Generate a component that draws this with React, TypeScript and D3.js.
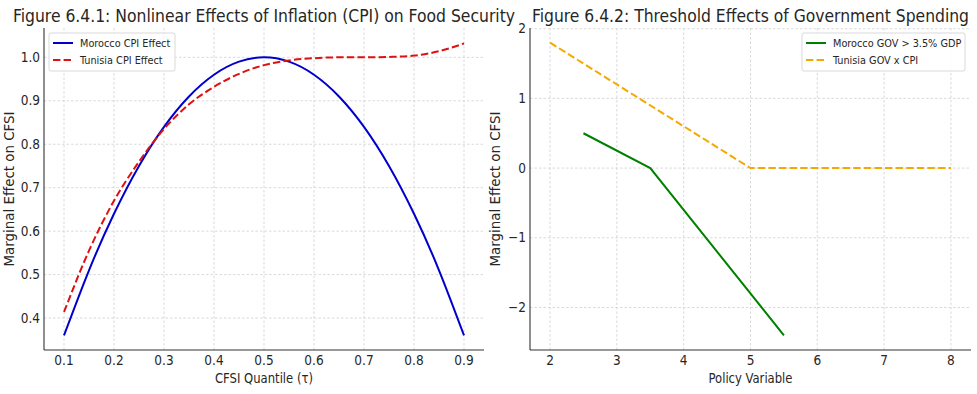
import React from 'react';
import * as d3 from 'd3';

// Figure 6.4.1 data
const tau = [0.1, 0.15, 0.2, 0.25, 0.3, 0.35, 0.4, 0.45, 0.5, 0.55, 0.6, 0.65, 0.7, 0.75, 0.8, 0.85, 0.9];
const moroccoCpi = [0.36, 0.51, 0.64, 0.75, 0.84, 0.91, 0.96, 0.99, 1.0, 0.99, 0.96, 0.91, 0.84, 0.75, 0.64, 0.51, 0.36];
const tunisiaCpi = [0.414, 0.555, 0.67, 0.76, 0.835, 0.892, 0.932, 0.962, 0.982, 0.993, 0.998, 1.0, 1.0, 1.001, 1.004, 1.014, 1.032];
const tauTicks = [0.1, 0.2, 0.3, 0.4, 0.5, 0.6, 0.7, 0.8, 0.9];
const cpiTicks = [0.4, 0.5, 0.6, 0.7, 0.8, 0.9, 1.0];

// Figure 6.4.2 data
const policyMorocco = [2.5, 3.5, 5.5];
const moroccoGov = [0.5, 0, -2.4];
const policyTunisia = [2, 5, 8];
const tunisiaGov = [1.8, 0, 0];
const policyTicks = [2, 3, 4, 5, 6, 7, 8];
const govTicks = [-2, -1, 0, 1, 2];

const FONT = "'DejaVu Sans Condensed', 'DejaVu Sans', sans-serif";
const TXT = '#262626';

type Series = { xs: number[]; ys: number[]; color: string; dashed: boolean; label: string; curve: d3.CurveFactory };

type PanelProps = {
  left: number;
  right: number;
  top: number;
  bottom: number;
  xDomain: [number, number];
  yDomain: [number, number];
  xTicks: number[];
  yTicks: number[];
  xFmt: (v: number) => string;
  yFmt: (v: number) => string;
  title: string;
  titleWidth: number;
  xLabel: string;
  xLabelWidth: number;
  yLabel: string;
  series: Series[];
  legendX: number;
  legendW: number;
};

const Panel = (p: PanelProps) => {
  const x = d3.scaleLinear().domain(p.xDomain).range([p.left, p.right]);
  const y = d3.scaleLinear().domain(p.yDomain).range([p.bottom, p.top]);
  const cx = (p.left + p.right) / 2;
  const cy = (p.top + p.bottom) / 2;
  return (
    <g fontFamily={FONT} fontStretch="condensed">
      {p.xTicks.map(t => (
        <line key={'gx' + t} x1={x(t)} x2={x(t)} y1={p.top} y2={p.bottom} stroke="#cfcfcf" strokeWidth={0.8} strokeDasharray="2.5,2" />
      ))}
      {p.yTicks.map(t => (
        <line key={'gy' + t} x1={p.left} x2={p.right} y1={y(t)} y2={y(t)} stroke="#cfcfcf" strokeWidth={0.8} strokeDasharray="2.5,2" />
      ))}
      {p.series.map(s => {
        const line = d3.line<number>().x((_, i) => x(s.xs[i])).y(d => y(d)).curve(s.curve);
        return (
          <path key={s.label} d={line(s.ys) || ''} fill="none" stroke={s.color} strokeWidth={2}
            strokeDasharray={s.dashed ? '7.4,3.2' : undefined} />
        );
      })}
      <line x1={p.left} x2={p.left} y1={p.top} y2={p.bottom} stroke="#333" strokeWidth={1.1} />
      <line x1={p.left} x2={p.right} y1={p.bottom} y2={p.bottom} stroke="#333" strokeWidth={1.1} />
      {p.xTicks.map(t => (
        <text key={'tx' + t} x={x(t)} y={p.bottom + 15} textAnchor="middle" fontSize={13.5} fill={TXT}>
          {p.xFmt(t)}
        </text>
      ))}
      {p.yTicks.map(t => (
        <text key={'ty' + t} x={p.left - 4} y={y(t) + 4.7} textAnchor="end" fontSize={13.5} fill={TXT}>
          {p.yFmt(t)}
        </text>
      ))}
      <text x={cx} y={22} textAnchor="middle" fontSize={18} fill={TXT}
        textLength={p.titleWidth} lengthAdjust="spacingAndGlyphs">{p.title}</text>
      <text x={cx} y={383} textAnchor="middle" fontSize={14} fill={TXT}
        textLength={p.xLabelWidth} lengthAdjust="spacingAndGlyphs">{p.xLabel}</text>
      <text transform={`translate(${p.left - 30},${cy}) rotate(-90)`} textAnchor="middle" fontSize={14} fill={TXT}
        textLength={155} lengthAdjust="spacingAndGlyphs">
        {p.yLabel}
      </text>
      <g transform={`translate(${p.legendX},33)`}>
        <rect x={0} y={0} width={p.legendW} height={38} fill="#fff" fillOpacity={0.85} stroke="#d9d9d9" rx={2} />
        {p.series.map((s, i) => (
          <g key={'lg' + s.label} transform={`translate(0,${10 + i * 17})`}>
            <line x1={4} x2={24} y1={0} y2={0} stroke={s.color} strokeWidth={2} strokeDasharray={s.dashed ? '7.4,3.2' : undefined} />
            <text x={31} y={4} fontSize={10.8} fill={TXT}>{s.label}</text>
          </g>
        ))}
      </g>
    </g>
  );
};

export default function App() {
  const f1 = d3.format('.1f');
  const fInt = (v: number) => (v < 0 ? '\u2212' + Math.abs(v) : String(v));
  return (
    <svg width={977} height={394} style={{ display: 'block', position: 'absolute', left: 0, top: 0, background: '#fff' }}>
      <Panel
        left={44} right={484} top={28} bottom={350}
        xDomain={[0.06, 0.94]} yDomain={[0.3265, 1.0675]}
        xTicks={tauTicks} yTicks={cpiTicks} xFmt={f1} yFmt={f1}
        title="Figure 6.4.1: Nonlinear Effects of Inflation (CPI) on Food Security" titleWidth={502}
        xLabel="CFSI Quantile (τ)" xLabelWidth={98} yLabel="Marginal Effect on CFSI"
        legendX={49} legendW={126}
        series={[
          { xs: tau, ys: moroccoCpi, color: '#0000cc', dashed: false, label: 'Morocco CPI Effect', curve: d3.curveNatural },
          { xs: tau, ys: tunisiaCpi, color: '#dd1111', dashed: true, label: 'Tunisia CPI Effect', curve: d3.curveMonotoneX },
        ]}
      />
      <Panel
        left={530} right={971} top={28} bottom={350}
        xDomain={[1.7, 8.3]} yDomain={[-2.61, 2.01]}
        xTicks={policyTicks} yTicks={govTicks} xFmt={v => String(v)} yFmt={fInt}
        title="Figure 6.4.2: Threshold Effects of Government Spending" titleWidth={437}
        xLabel="Policy Variable" xLabelWidth={84} yLabel="Marginal Effect on CFSI"
        legendX={802} legendW={163}
        series={[
          { xs: policyMorocco, ys: moroccoGov, color: '#008000', dashed: false, label: 'Morocco GOV > 3.5% GDP', curve: d3.curveLinear },
          { xs: policyTunisia, ys: tunisiaGov, color: '#f5a800', dashed: true, label: 'Tunisia GOV x CPI', curve: d3.curveLinear },
        ]}
      />
    </svg>
  );
}
